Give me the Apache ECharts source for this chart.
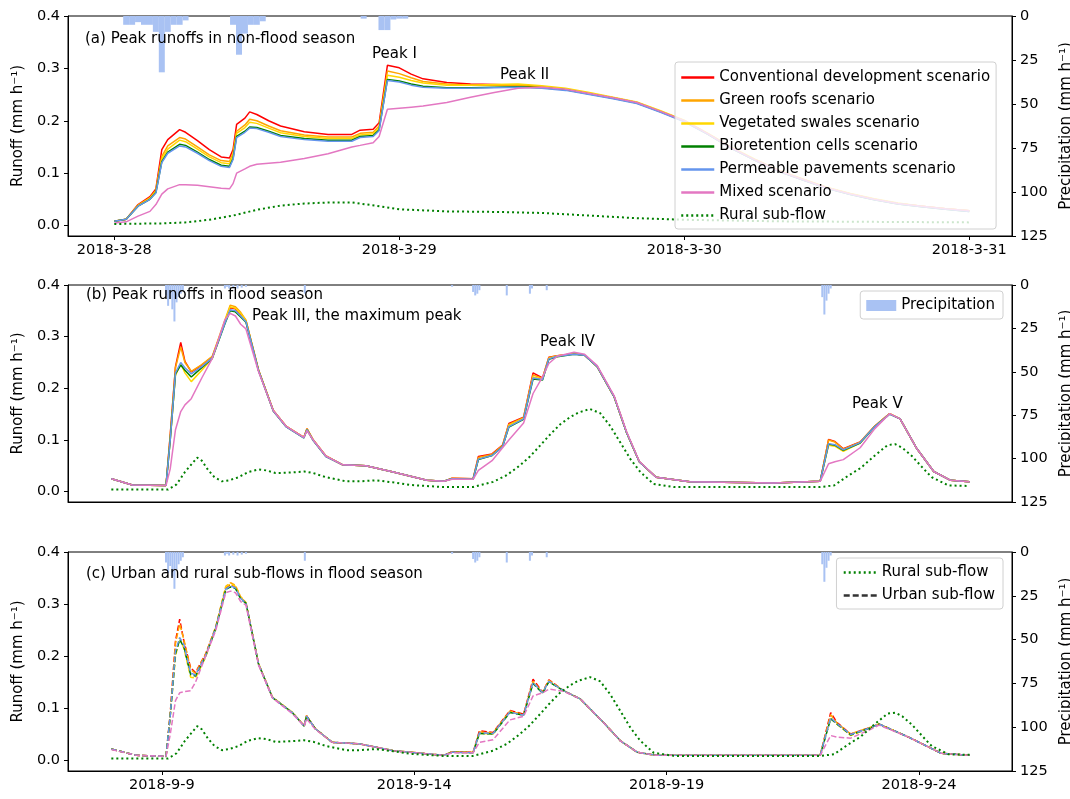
<!DOCTYPE html>
<html><head><meta charset="utf-8">
<script src="https://cdn.jsdelivr.net/npm/echarts@6/dist/echarts.min.js"></script>
<style>html,body{margin:0;padding:0;background:#fff}#c{width:1070px;height:799px}</style>
</head><body><div id="c"></div>
<script>
// ---------- Panel (a): hours from 2018-3-28 00:00 ----------
const aHours = [0,1,2,3,3.5,4,4.5,5.5,6,7, 8,9,9.7,10,10.3,11,11.4,12,13,14, 16,18,20,20.7,21.8,22.3,23,24,25,26, 28,30,32,34,36,38,40,42,44,46, 48,50,52,54,56,58,60,62,64,66, 68,70,72];
const aConv  = [0.008,0.012,0.04,0.055,0.07,0.145,0.164,0.183,0.178,0.162, 0.145,0.131,0.129,0.145,0.193,0.205,0.217,0.212,0.2,0.19, 0.179,0.174,0.174,0.182,0.184,0.196,0.306,0.301,0.289,0.28, 0.273,0.27,0.269,0.268,0.265,0.26,0.252,0.244,0.235,0.218, 0.2,0.175,0.148,0.125,0.104,0.088,0.072,0.06,0.05,0.042, 0.037,0.032,0.028];
const aRoof  = [0.008,0.012,0.039,0.053,0.067,0.132,0.152,0.168,0.165,0.15, 0.135,0.124,0.122,0.138,0.18,0.192,0.203,0.2,0.19,0.181, 0.173,0.169,0.169,0.176,0.178,0.19,0.295,0.29,0.282,0.275, 0.27,0.268,0.268,0.268,0.265,0.26,0.252,0.244,0.235,0.218, 0.2,0.175,0.148,0.125,0.104,0.088,0.072,0.06,0.05,0.042, 0.037,0.032,0.028];
const aSwale = [0.008,0.012,0.038,0.052,0.065,0.127,0.146,0.163,0.16,0.146, 0.131,0.12,0.118,0.134,0.176,0.187,0.197,0.195,0.186,0.177, 0.17,0.166,0.166,0.173,0.175,0.187,0.287,0.283,0.277,0.272, 0.268,0.268,0.269,0.27,0.267,0.262,0.254,0.245,0.236,0.219, 0.201,0.176,0.149,0.126,0.105,0.089,0.073,0.061,0.051,0.043, 0.037,0.032,0.028];
const aBio   = [0.008,0.012,0.037,0.05,0.063,0.122,0.14,0.155,0.153,0.14, 0.126,0.115,0.113,0.128,0.17,0.18,0.188,0.187,0.18,0.172, 0.166,0.163,0.163,0.17,0.172,0.183,0.279,0.276,0.27,0.266, 0.263,0.263,0.264,0.265,0.263,0.259,0.251,0.243,0.234,0.217, 0.199,0.174,0.147,0.124,0.103,0.087,0.071,0.059,0.049,0.041, 0.036,0.031,0.027];
const aPave  = [0.008,0.012,0.037,0.05,0.062,0.12,0.138,0.152,0.15,0.138, 0.124,0.113,0.111,0.126,0.168,0.178,0.186,0.185,0.178,0.17, 0.164,0.161,0.161,0.168,0.17,0.181,0.277,0.274,0.268,0.264, 0.262,0.262,0.263,0.264,0.262,0.258,0.25,0.242,0.233,0.216, 0.198,0.174,0.147,0.124,0.103,0.087,0.071,0.059,0.049,0.041, 0.036,0.031,0.027];
const aMixed = [0.005,0.007,0.018,0.027,0.04,0.06,0.07,0.078,0.078,0.077, 0.074,0.071,0.07,0.08,0.1,0.108,0.113,0.117,0.119,0.121, 0.128,0.137,0.15,0.153,0.158,0.17,0.222,0.224,0.226,0.228, 0.235,0.245,0.254,0.262,0.264,0.26,0.252,0.244,0.235,0.218, 0.2,0.175,0.148,0.125,0.104,0.088,0.072,0.06,0.05,0.042, 0.037,0.032,0.028];
const aRuralHours = [0,4,6,8,10,12,14,16,18,20,22,24,28,32,36,40,44,48,56,64,72];
const aRural = [0.003,0.004,0.006,0.011,0.019,0.03,0.038,0.042,0.044,0.044,0.038,0.031,0.027,0.026,0.024,0.019,0.014,0.011,0.008,0.007,0.006];
const aRainHours = [1,1.5,2,2.5,3,3.5,4,4.5,5,5.5,6,10,10.5,11,11.5,12,12.5,21,22.5,23,23.5,24,24.5];
const aRain = [5,5,3.5,5,5,9,32,9,5,5,2.5,5,22,10,5,5,3,1.5,8,8,2,1.5,1.5];
const aTicks = [0,24,48,72];

// ---------- Panel (b): hours from 2018-9-8 00:00 ----------
const bHours = [0,10,26,28,30.5,33,35,38,43,48, 54,56.5,59,61.5,64,70,77,83,91.5,93, 96,102,110,121,134,150,158,162,172,174.5, 181,186,189,196,200.5,205,208,212,220,225, 231,239,245,251,259,275,315,337,341,344, 348,356,363,370,375,383,391,399,408];
const bConv  = [0.025,0.013,0.012,0.11,0.242,0.289,0.252,0.232,0.245,0.261, 0.328,0.356,0.354,0.344,0.331,0.235,0.157,0.127,0.105,0.122, 0.1,0.069,0.052,0.05,0.038,0.022,0.02,0.026,0.025,0.068, 0.073,0.09,0.132,0.144,0.23,0.22,0.26,0.263,0.267,0.264, 0.242,0.184,0.114,0.058,0.028,0.019,0.017,0.02,0.101,0.097, 0.083,0.096,0.127,0.151,0.141,0.083,0.039,0.022,0.019];
const bRoof  = [0.025,0.013,0.012,0.108,0.24,0.28,0.25,0.233,0.246,0.262, 0.332,0.361,0.358,0.347,0.332,0.235,0.157,0.127,0.105,0.122, 0.1,0.069,0.052,0.05,0.038,0.022,0.02,0.026,0.025,0.066, 0.072,0.089,0.13,0.143,0.226,0.219,0.259,0.263,0.267,0.264, 0.242,0.184,0.114,0.058,0.028,0.019,0.017,0.02,0.1,0.096, 0.082,0.096,0.127,0.151,0.141,0.083,0.039,0.022,0.019];
const bSwale = [0.025,0.013,0.012,0.1,0.225,0.248,0.23,0.213,0.235,0.258, 0.33,0.358,0.355,0.345,0.331,0.235,0.157,0.127,0.105,0.121, 0.1,0.069,0.052,0.05,0.038,0.022,0.02,0.025,0.024,0.063, 0.07,0.088,0.128,0.142,0.222,0.218,0.258,0.262,0.267,0.264, 0.242,0.184,0.114,0.058,0.028,0.019,0.017,0.02,0.09,0.088, 0.078,0.094,0.126,0.151,0.141,0.083,0.039,0.022,0.019];
const bBio   = [0.025,0.013,0.012,0.1,0.228,0.245,0.235,0.222,0.24,0.258, 0.325,0.35,0.348,0.338,0.328,0.234,0.156,0.126,0.104,0.12, 0.099,0.068,0.052,0.05,0.038,0.022,0.02,0.025,0.024,0.062, 0.07,0.087,0.125,0.14,0.218,0.216,0.256,0.261,0.266,0.264, 0.242,0.184,0.114,0.058,0.028,0.019,0.017,0.02,0.092,0.09, 0.08,0.094,0.126,0.15,0.141,0.083,0.039,0.022,0.019];
const bPave  = [0.025,0.013,0.012,0.1,0.23,0.25,0.24,0.228,0.242,0.259, 0.326,0.352,0.35,0.34,0.329,0.234,0.156,0.126,0.104,0.12, 0.099,0.068,0.052,0.05,0.038,0.022,0.02,0.025,0.024,0.063, 0.07,0.087,0.126,0.141,0.22,0.217,0.257,0.262,0.266,0.264, 0.242,0.184,0.114,0.058,0.028,0.019,0.017,0.02,0.093,0.091, 0.081,0.095,0.126,0.15,0.141,0.083,0.039,0.022,0.019];
const bMixed = [0.025,0.013,0.012,0.044,0.12,0.155,0.168,0.18,0.22,0.258, 0.333,0.345,0.34,0.324,0.315,0.232,0.157,0.127,0.105,0.118, 0.1,0.069,0.052,0.05,0.038,0.022,0.02,0.024,0.024,0.041, 0.06,0.085,0.1,0.133,0.19,0.222,0.248,0.262,0.27,0.266, 0.244,0.186,0.116,0.059,0.028,0.019,0.017,0.02,0.054,0.058, 0.062,0.085,0.122,0.151,0.141,0.083,0.039,0.022,0.019];

// Rural sub-flow (panels b and c)
const rHours = [0,27,31,35,40.8,43,46,49,52.6,56, 60.6,65,70,74,78,85,91.7,96,102,111.6, 118,126,134,142,157.6,172,181.5,188,194,199, 203.8,208,213.3,218,222,227.6,232.4,237.2,242,246.8, 251.5,257.8,267.4,337,343.6,350,356.3,363,369,372.7, 376,380.6,386,390,398,408];
const rVals  = [0.004,0.004,0.014,0.038,0.066,0.06,0.042,0.028,0.02,0.022, 0.028,0.038,0.043,0.041,0.036,0.037,0.039,0.036,0.028,0.02, 0.02,0.022,0.018,0.013,0.009,0.009,0.019,0.032,0.05,0.068, 0.089,0.108,0.13,0.144,0.153,0.16,0.152,0.127,0.095,0.063, 0.038,0.015,0.009,0.009,0.012,0.03,0.046,0.07,0.09,0.092, 0.085,0.069,0.045,0.028,0.012,0.011];

// Precipitation (panels b and c)
const rainHours = [26,27,28,29,30,31,32,33,34,54,55,56,58,60,62,64,92,162,172,173,174,175,188,199,200,207,338,339,340,341,342];
const rainVals  = [6,12,8,14,21,10,7,5,3,2,1,2,1.5,2,1.5,1,5,1,4,6,5,3,6,5,2,3,7,17,9,5,2];

// ---------- Panel (c): urban sub-flows ----------
const cHours = [0,12,26,28,30.5,32.5,34.5,37.7,40,44.8, 49.6,54.4,56.7,59,61.5,64,70,76.6,86,91.7, 92.8,97,105,118,134,158,162,172,175,181.5, 189.5,196,200.5,205,208,215,223,234,242,250, 259,337,342,345,351.5,361,365,379,394.5,408];
const cConv  = [0.022,0.01,0.008,0.09,0.229,0.271,0.229,0.178,0.169,0.204, 0.255,0.331,0.338,0.333,0.312,0.303,0.185,0.121,0.092,0.067, 0.086,0.061,0.035,0.032,0.019,0.01,0.017,0.016,0.057,0.054, 0.096,0.089,0.156,0.131,0.155,0.134,0.118,0.073,0.038,0.016, 0.01,0.01,0.092,0.073,0.051,0.064,0.07,0.045,0.014,0.01];
const cRoof  = [0.022,0.01,0.008,0.088,0.225,0.262,0.232,0.175,0.167,0.204, 0.256,0.334,0.341,0.336,0.314,0.303,0.185,0.121,0.092,0.067, 0.086,0.061,0.035,0.032,0.019,0.01,0.017,0.016,0.055,0.053, 0.095,0.088,0.152,0.13,0.154,0.134,0.118,0.073,0.038,0.016, 0.01,0.01,0.088,0.072,0.051,0.064,0.07,0.045,0.014,0.01];
const cSwale = [0.022,0.01,0.008,0.085,0.2,0.235,0.215,0.16,0.158,0.198, 0.254,0.333,0.339,0.334,0.313,0.303,0.186,0.122,0.093,0.066, 0.085,0.061,0.035,0.032,0.019,0.01,0.016,0.015,0.052,0.051, 0.093,0.087,0.15,0.13,0.152,0.134,0.118,0.073,0.038,0.016, 0.01,0.01,0.082,0.07,0.048,0.063,0.07,0.045,0.014,0.01];
const cBio   = [0.022,0.01,0.008,0.085,0.205,0.232,0.218,0.165,0.162,0.2, 0.253,0.328,0.333,0.33,0.31,0.302,0.185,0.121,0.092,0.066, 0.085,0.061,0.035,0.032,0.019,0.01,0.016,0.015,0.052,0.051, 0.092,0.087,0.148,0.129,0.151,0.134,0.118,0.073,0.038,0.016, 0.01,0.01,0.08,0.07,0.049,0.063,0.07,0.045,0.014,0.01];
const cPave  = [0.022,0.01,0.008,0.086,0.21,0.236,0.222,0.168,0.164,0.201, 0.254,0.329,0.335,0.331,0.311,0.302,0.185,0.121,0.092,0.066, 0.085,0.061,0.035,0.032,0.019,0.01,0.016,0.015,0.053,0.052, 0.093,0.087,0.15,0.13,0.152,0.134,0.118,0.073,0.038,0.016, 0.01,0.01,0.082,0.071,0.05,0.063,0.07,0.045,0.014,0.01];
const cMixed = [0.021,0.01,0.008,0.05,0.115,0.13,0.132,0.134,0.15,0.2, 0.249,0.322,0.325,0.322,0.305,0.298,0.183,0.12,0.09,0.066, 0.08,0.06,0.035,0.032,0.019,0.01,0.015,0.015,0.035,0.04, 0.078,0.085,0.124,0.13,0.137,0.133,0.118,0.073,0.038,0.016, 0.01,0.01,0.048,0.045,0.043,0.06,0.068,0.045,0.014,0.01];
const bcTicks = [24,144,264,384];

const names = ['Conventional development scenario','Green roofs scenario','Vegetated swales scenario','Bioretention cells scenario','Permeable pavements scenario','Mixed scenario','Rural sub-flow'];
const yTicks = [0,0.1,0.2,0.3,0.4];
const rainLabel = 'Precipitation';

// ---------- styling ----------
const FONT = 'DejaVu Sans';
const FS = 15;
const colors = ['#ff0000','#ffa500','#ffd700','#008000','#6495ed','#e377c2'];
const ruralColor = '#008000';
const rainColor = '#a9c2f3';
const pair = (hs, vs) => hs.map((h, i) => [h, vs[i]]);

const grids = [
  {left: 68, right: 58, top: 16, height: 220},
  {left: 68, right: 58, top: 285, height: 217},
  {left: 68, right: 58, top: 552, height: 219}
].map(g => Object.assign(g, {show: true, borderColor: '#000', borderWidth: 1, backgroundColor: 'transparent', containLabel: false, outerBoundsMode: 'none'}));

const lbl = {color: '#000', fontSize: FS, fontFamily: FONT};
const tickLbl = {color: '#000', fontSize: 14.5, fontFamily: FONT};
function xAx(gi, min, max, ticks, base, showLabels) {
  return {
    type: 'value', gridIndex: gi, min, max,
    axisLine: {show: true, onZero: false, lineStyle: {color: '#000', width: 1}},
    axisTick: {show: showLabels, length: 4, lineStyle: {color: '#000'}, customValues: ticks},
    axisLabel: {show: showLabels, margin: 7, ...tickLbl, customValues: ticks,
      formatter: v => base[0] + (base[1] + Math.round(v / 24))},
    splitLine: {show: false}
  };
}
function yLeft(gi) {
  return {
    type: 'value', gridIndex: gi, position: 'left', min: -0.02, max: 0.4,
    name: 'Runoff (mm h⁻¹)', nameLocation: 'middle', nameGap: 42, nameRotate: 90,
    nameTextStyle: {...lbl},
    axisLine: {show: true, onZero: false, lineStyle: {color: '#000'}},
    axisTick: {show: true, length: 4, lineStyle: {color: '#000'}, customValues: yTicks},
    axisLabel: {...tickLbl, margin: 8, customValues: yTicks, formatter: v => v.toFixed(1)},
    splitLine: {show: false}
  };
}
function yRight(gi) {
  return {
    type: 'value', gridIndex: gi, position: 'right', min: 0, max: 125, interval: 25, inverse: true,
    name: 'Precipitation (mm h⁻¹)', nameLocation: 'middle', nameGap: 38, nameRotate: 90,
    nameTextStyle: {...lbl},
    axisLine: {show: true, onZero: false, lineStyle: {color: '#000'}},
    axisTick: {show: true, length: 4, lineStyle: {color: '#000'}},
    axisLabel: {...tickLbl, margin: 8},
    splitLine: {show: false}
  };
}

const series = [];
function lineS(name, data, xi, yi, color, type, width, z) {
  series.push({name, type: 'line', xAxisIndex: xi, yAxisIndex: yi, data, symbol: 'none', showSymbol: false,
    lineStyle: {color, width: width || 1.5, type: type || 'solid'}, itemStyle: {color}, z: z || 3, animation: false});
}
function rainS(hs, vs, xi, yi, w) {
  series.push({name: rainLabel, type: 'bar', xAxisIndex: xi, yAxisIndex: yi, data: pair(hs, vs),
    barWidth: w, itemStyle: {color: rainColor}, z: 1, animation: false});
}
// panel a
rainS(aRainHours, aRain, 0, 1, 6);
[aConv, aRoof, aSwale, aBio, aPave, aMixed].forEach((arr, i) => lineS(names[i], pair(aHours, arr), 0, 0, colors[i]));
lineS(names[6], pair(aRuralHours, aRural), 0, 0, ruralColor, [2, 3], 2);
// panel b
rainS(rainHours, rainVals, 1, 3, 2);
[bConv, bRoof, bSwale, bBio, bPave, bMixed].forEach((arr, i) => lineS(names[i], pair(bHours, arr), 1, 2, colors[i]));
lineS(names[6], pair(rHours, rVals), 1, 2, ruralColor, [2, 3], 2);
// panel c
rainS(rainHours, rainVals, 2, 5, 2);
[cConv, cRoof, cSwale, cBio, cPave, cMixed].forEach((arr, i) => lineS(names[i], pair(cHours, arr), 2, 4, colors[i], [5.5, 2.4]));
lineS(names[6], pair(rHours, rVals), 2, 4, ruralColor, [2, 3], 2);
lineS('Urban sub-flow', [], 2, 4, '#333333', [6, 3], 2);

const legendBase = {orient: 'vertical', backgroundColor: 'rgba(255,255,255,0.8)', borderColor: '#d0d0d0', borderWidth: 1,
  borderRadius: 3, itemGap: 8, itemHeight: 14, itemWidth: 33, textStyle: {...lbl, lineHeight: 15}, selectedMode: false,
  itemStyle: {opacity: 0}, lineStyle: {width: 2.5}};

const texts = [
  ['(a) Peak runoffs in non-flood season', 85, 39],
  ['Peak I', 372, 54],
  ['Peak II', 500, 75],
  ['(b) Peak runoffs in flood season', 86, 295],
  ['Peak III, the maximum peak', 252, 316],
  ['Peak IV', 540, 342],
  ['Peak V', 852, 404],
  ['(c) Urban and rural sub-flows in flood season', 86, 574]
];

const option = {
  animation: false,
  backgroundColor: '#fff',
  textStyle: {fontFamily: FONT},
  grid: grids,
  xAxis: [
    xAx(0, -3.9, 75.6, aTicks, ['2018-3-', 28], true),
    xAx(1, -20.6, 428.2, bcTicks, ['2018-9-', 8], false),
    xAx(2, -20.6, 428.2, bcTicks, ['2018-9-', 8], true)
  ],
  yAxis: [yLeft(0), yRight(0), yLeft(1), yRight(1), yLeft(2), yRight(2)],
  legend: [
    Object.assign({}, legendBase, {data: names, left: 675, top: 62, padding: [8, 6, 6, 5]}),
    Object.assign({}, legendBase, {data: [rainLabel], right: 67, top: 291, padding: [7, 8, 6, 6], itemHeight: 11, itemWidth: 30, icon: 'rect', itemStyle: {opacity: 1}}),
    Object.assign({}, legendBase, {data: [names[6], 'Urban sub-flow'], right: 67, top: 558, padding: [7, 8, 6, 6]})
  ],
  graphic: texts.map(t => ({type: 'text', x: t[1], y: t[2], z: 10,
    style: {text: t[0], fill: '#000', font: FS + 'px "DejaVu Sans"', verticalAlign: 'middle', align: 'left'}})),
  series
};
const chart = echarts.init(document.getElementById('c'), null, {renderer: 'canvas'});
chart.setOption(option);
</script></body></html>
